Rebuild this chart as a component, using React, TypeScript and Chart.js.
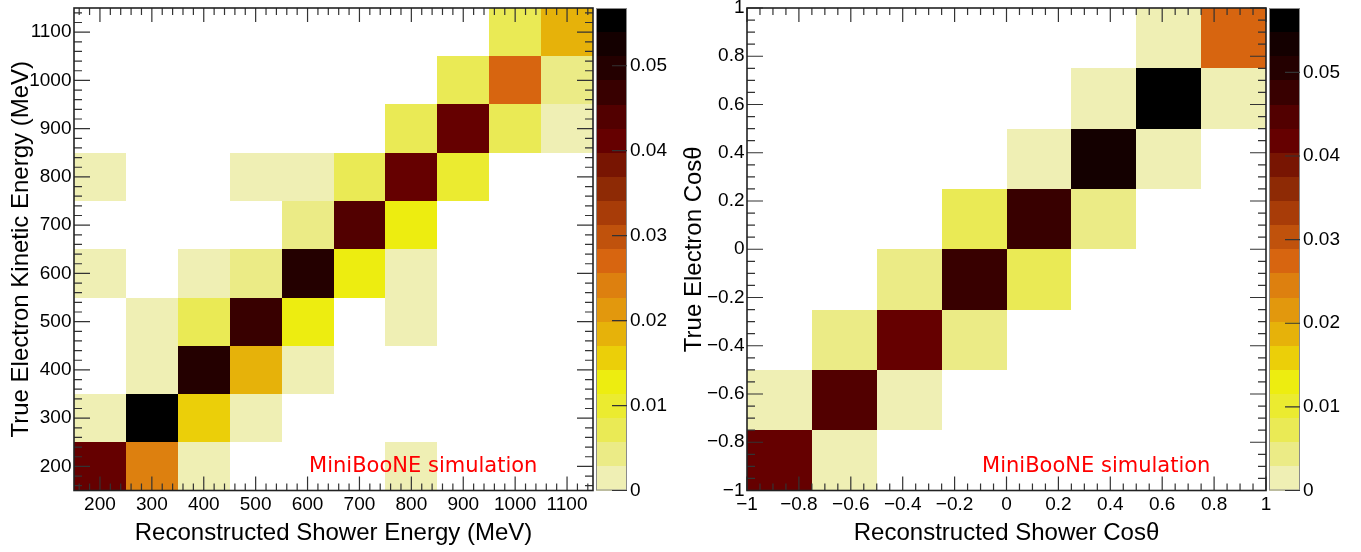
import React, { useEffect, useRef } from "react";
import { Chart, registerables } from "chart.js";

Chart.register(...registerables);

// ---------- data ----------
const energyBinEdges = [150, 250, 350, 450, 550, 650, 750, 850, 950, 1050, 1150];
const energyTicks = [200, 300, 400, 500, 600, 700, 800, 900, 1000, 1100];
// rows: true electron kinetic energy bins (200 .. 1100, bottom -> top)
// cols: reconstructed shower energy bins (200 .. 1100)
const energyRow200 = [0.041, 0.024, 0.0015, 0, 0, 0, 0.0015, 0, 0, 0];
const energyRow300 = [0.0015, 0.0555, 0.0155, 0.0015, 0, 0, 0, 0, 0, 0];
const energyRow400 = [0, 0.0015, 0.0497, 0.0185, 0.0015, 0, 0, 0, 0, 0];
const energyRow500 = [0, 0.0015, 0.007, 0.047, 0.013, 0, 0.0015, 0, 0, 0];
const energyRow600 = [0.0015, 0, 0.0015, 0.004, 0.0497, 0.013, 0.0015, 0, 0, 0];
const energyRow700 = [0, 0, 0, 0, 0.004, 0.044, 0.013, 0, 0, 0];
const energyRow800 = [0.0015, 0, 0, 0.0015, 0.0015, 0.007, 0.041, 0.01, 0, 0];
const energyRow900 = [0, 0, 0, 0, 0, 0, 0.007, 0.041, 0.007, 0.0015];
const energyRow1000 = [0, 0, 0, 0, 0, 0, 0, 0.007, 0.027, 0.004];
const energyRow1100 = [0, 0, 0, 0, 0, 0, 0, 0, 0.007, 0.0185];
const energyMatrix = [
  energyRow200, energyRow300, energyRow400, energyRow500, energyRow600,
  energyRow700, energyRow800, energyRow900, energyRow1000, energyRow1100,
];
const energyZMax = 0.0568;

const cosBinEdges = [-1, -0.75, -0.5, -0.25, 0, 0.25, 0.5, 0.75, 1];
const cosTicks = [-1, -0.8, -0.6, -0.4, -0.2, 0, 0.2, 0.4, 0.6, 0.8, 1];
// rows: true cos bins (bottom -> top), cols: reconstructed cos bins
const cosRow0 = [0.0418, 0.0015, 0, 0, 0, 0, 0, 0];
const cosRow1 = [0.0015, 0.0447, 0.0015, 0, 0, 0, 0, 0];
const cosRow2 = [0, 0.0043, 0.0418, 0.0043, 0, 0, 0, 0];
const cosRow3 = [0, 0, 0.0043, 0.0476, 0.0072, 0, 0, 0];
const cosRow4 = [0, 0, 0, 0.0072, 0.0476, 0.0043, 0, 0];
const cosRow5 = [0, 0, 0, 0, 0.0015, 0.0533, 0.0015, 0];
const cosRow6 = [0, 0, 0, 0, 0, 0.0015, 0.0565, 0.0015];
const cosRow7 = [0, 0, 0, 0, 0, 0, 0.0015, 0.0274];
const cosMatrix = [cosRow0, cosRow1, cosRow2, cosRow3, cosRow4, cosRow5, cosRow6, cosRow7];
const cosZMax = 0.0577;

const colorbarTicks = [0, 0.01, 0.02, 0.03, 0.04, 0.05];

const palette = [
  "#EFEFB4", "#EBEB86", "#EAEA55", "#EBEB30", "#EDED10",
  "#EBCF09", "#E6B20A", "#E2980D", "#DD800F", "#D76510",
  "#C0520C", "#A83C08", "#8E2A05", "#781502", "#650000",
  "#520000", "#380000", "#240000", "#140000", "#000000",
];

const annotationText = "MiniBooNE simulation";
const energyXTitle = "Reconstructed Shower Energy (MeV)";
const energyYTitle = "True Electron Kinetic Energy (MeV)";
const cosXTitle = "Reconstructed Shower Cos\u03b8";
const cosYTitle = "True Electron Cos\u03b8";

// ---------- helpers ----------
const FONT = '"Liberation Sans", Arial, Helvetica, sans-serif';

function fmtNum(v: number): string {
  const r = Math.round(v * 1000) / 1000;
  if (r < 0) return "\u2212" + String(-r);
  return String(r);
}

const heatmapPlugin = {
  id: "heatmap",
  beforeDatasetsDraw(chart: any, _args: any, opts: any) {
    const { ctx, scales } = chart;
    const x = scales.x, y = scales.y;
    const { edgesX, edgesY, matrix, zmax } = opts;
    ctx.save();
    matrix.forEach((row: number[], j: number) => {
      row.forEach((v: number, i: number) => {
        if (!(v > 0)) return;
        const idx = Math.min(palette.length - 1, Math.floor((v / zmax) * palette.length));
        const x0 = Math.round(x.getPixelForValue(edgesX[i]));
        const x1 = Math.round(x.getPixelForValue(edgesX[i + 1]));
        const y0 = Math.round(y.getPixelForValue(edgesY[j + 1]));
        const y1 = Math.round(y.getPixelForValue(edgesY[j]));
        ctx.fillStyle = palette[idx];
        ctx.fillRect(x0, y0, x1 - x0, y1 - y0);
      });
    });
    ctx.restore();
  },
  afterDatasetsDraw(chart: any, _args: any, opts: any) {
    const { ctx, chartArea: a, scales } = chart;
    const x = scales.x, y = scales.y, cb = scales.cb;
    const { xMajor, yMajor, xMinorStep, yMinorStep, zmax } = opts;
    ctx.save();
    // ticks (inside the frame, on all four sides)
    ctx.strokeStyle = "#333";
    ctx.lineWidth = 1.2;
    const minorVals = (s: any, step: number) => {
      const out: number[] = [];
      const start = Math.ceil(s.min / step - 1e-9);
      for (let k = start; k * step <= s.max + 1e-9; k++) out.push(k * step);
      return out;
    };
    ctx.beginPath();
    for (const v of minorVals(x, xMinorStep)) {
      const px = x.getPixelForValue(v);
      ctx.moveTo(px, a.bottom); ctx.lineTo(px, a.bottom - 7);
      ctx.moveTo(px, a.top); ctx.lineTo(px, a.top + 7);
    }
    for (const v of xMajor) {
      const px = x.getPixelForValue(v);
      ctx.moveTo(px, a.bottom); ctx.lineTo(px, a.bottom - 14);
      ctx.moveTo(px, a.top); ctx.lineTo(px, a.top + 14);
    }
    for (const v of minorVals(y, yMinorStep)) {
      const py = y.getPixelForValue(v);
      ctx.moveTo(a.left, py); ctx.lineTo(a.left + 8, py);
      ctx.moveTo(a.right, py); ctx.lineTo(a.right - 8, py);
    }
    for (const v of yMajor) {
      const py = y.getPixelForValue(v);
      ctx.moveTo(a.left, py); ctx.lineTo(a.left + 16, py);
      ctx.moveTo(a.right, py); ctx.lineTo(a.right - 16, py);
    }
    ctx.stroke();
    // frame
    ctx.strokeStyle = "#222";
    ctx.lineWidth = 1.6;
    ctx.strokeRect(a.left, a.top, a.right - a.left, a.bottom - a.top);

    // colour bar
    const bx0 = a.right + 3, bx1 = a.right + 34;
    const n = palette.length;
    for (let k = 0; k < n; k++) {
      const yTop = Math.round(cb.getPixelForValue(((k + 1) * zmax) / n));
      const yBot = Math.round(cb.getPixelForValue((k * zmax) / n));
      ctx.fillStyle = palette[k];
      ctx.fillRect(bx0, yTop, bx1 - bx0, yBot - yTop);
    }
    ctx.strokeStyle = "#8a8a8a";
    ctx.lineWidth = 1;
    ctx.strokeRect(bx0 + 0.5, cb.getPixelForValue(zmax) + 0.5, bx1 - bx0 - 1, cb.getPixelForValue(0) - cb.getPixelForValue(zmax) - 1);
    ctx.strokeStyle = "#333";
    ctx.lineWidth = 1.2;
    ctx.beginPath();
    for (const v of colorbarTicks) {
      const py = cb.getPixelForValue(v);
      ctx.moveTo(bx1, py); ctx.lineTo(bx1 - 15, py);
    }
    ctx.stroke();

    // annotation
    ctx.fillStyle = "#ff0000";
    ctx.font = '21px "DejaVu Sans", sans-serif';
    ctx.textAlign = "left";
    ctx.textBaseline = "alphabetic";
    ctx.fillText(annotationText, a.left + 0.453 * (a.right - a.left), a.top + 0.961 * (a.bottom - a.top));
    ctx.restore();
  },
};

interface PanelProps {
  left: number;
  width: number;
  edgesX: number[];
  edgesY: number[];
  matrix: number[][];
  xTicks: number[];
  yTicks: number[];
  xMinorStep: number;
  yMinorStep: number;
  zmax: number;
  xTitle: string;
  yTitle: string;
}

const HEIGHT = 552;
const AREA_RIGHT = 593;

function Panel(p: PanelProps) {
  const ref = useRef<HTMLCanvasElement>(null);
  useEffect(() => {
    const xMin = p.edgesX[0], xMax = p.edgesX[p.edgesX.length - 1];
    const yMin = p.edgesY[0], yMax = p.edgesY[p.edgesY.length - 1];
    const tickFont = { family: FONT, size: 19 };
    const titleFont = { family: FONT, size: 24 };
    const chart = new Chart(ref.current as HTMLCanvasElement, {
      type: "scatter",
      data: { datasets: [{ data: [], pointRadius: 0 }] },
      options: {
        responsive: false,
        animation: false,
        events: [],
        layout: { padding: { top: 8, left: 0, right: 0, bottom: 0 } },
        plugins: {
          legend: { display: false },
          tooltip: { enabled: false },
          heatmap: {
            edgesX: p.edgesX, edgesY: p.edgesY, matrix: p.matrix, zmax: p.zmax,
            xMajor: p.xTicks, yMajor: p.yTicks, xMinorStep: p.xMinorStep, yMinorStep: p.yMinorStep,
          },
        } as any,
        scales: {
          x: {
            type: "linear", position: "bottom", min: xMin, max: xMax,
            grid: { display: false, drawTicks: false }, border: { display: false },
            ticks: {
              autoSkip: false, maxRotation: 0, minRotation: 0, padding: 3,
              font: tickFont, color: "#000",
              callback: (v: any) => fmtNum(Number(v)),
            },
            afterBuildTicks: (s: any) => { s.ticks = p.xTicks.map((v) => ({ value: v })); },
            afterFit: (s: any) => { s.height = 61.5; s.paddingLeft = 0; s.paddingRight = 0; },
            title: { display: true, text: p.xTitle, font: titleFont, color: "#000", padding: { top: 0, bottom: 4.6 } },
          },
          y: {
            type: "linear", position: "left", min: yMin, max: yMax,
            grid: { display: false, drawTicks: false }, border: { display: false },
            ticks: {
              autoSkip: false, padding: 2.5, font: tickFont, color: "#000",
              callback: (v: any) => fmtNum(Number(v)),
            },
            afterBuildTicks: (s: any) => { s.ticks = p.yTicks.map((v) => ({ value: v })); },
            afterFit: (s: any) => { s.width = 74; s.paddingTop = 0; s.paddingBottom = 0; },
            title: { display: true, text: p.yTitle, font: titleFont, color: "#000", padding: { top: 7, bottom: 0 } },
          },
          cb: {
            type: "linear", axis: "y", position: "right", min: 0, max: p.zmax,
            grid: { display: false, drawTicks: false }, border: { display: false },
            ticks: {
              autoSkip: false, padding: 37, font: tickFont, color: "#000",
              callback: (v: any) => fmtNum(Number(v)),
            },
            afterBuildTicks: (s: any) => { s.ticks = colorbarTicks.map((v) => ({ value: v })); },
            afterFit: (s: any) => { s.width = p.width - AREA_RIGHT; s.paddingTop = 0; s.paddingBottom = 0; },
          },
        } as any,
      },
      plugins: [heatmapPlugin],
    } as any);
    return () => chart.destroy();
  }, []);
  return (
    <canvas
      ref={ref}
      width={p.width}
      height={HEIGHT}
      style={{ position: "absolute", left: p.left, top: 0, width: p.width, height: HEIGHT }}
    />
  );
}

export default function App() {
  return (
    <div style={{ position: "absolute", left: 0, top: 0, width: 1361, height: HEIGHT, background: "#fff", overflow: "hidden" }}>
      <Panel
        left={0}
        width={673}
        edgesX={energyBinEdges}
        edgesY={energyBinEdges}
        matrix={energyMatrix}
        xTicks={energyTicks}
        yTicks={energyTicks}
        xMinorStep={20}
        yMinorStep={20}
        zmax={energyZMax}
        xTitle={energyXTitle}
        yTitle={energyYTitle}
      />
      <Panel
        left={673}
        width={688}
        edgesX={cosBinEdges}
        edgesY={cosBinEdges}
        matrix={cosMatrix}
        xTicks={cosTicks}
        yTicks={cosTicks}
        xMinorStep={0.05}
        yMinorStep={0.05}
        zmax={cosZMax}
        xTitle={cosXTitle}
        yTitle={cosYTitle}
      />
    </div>
  );
}
